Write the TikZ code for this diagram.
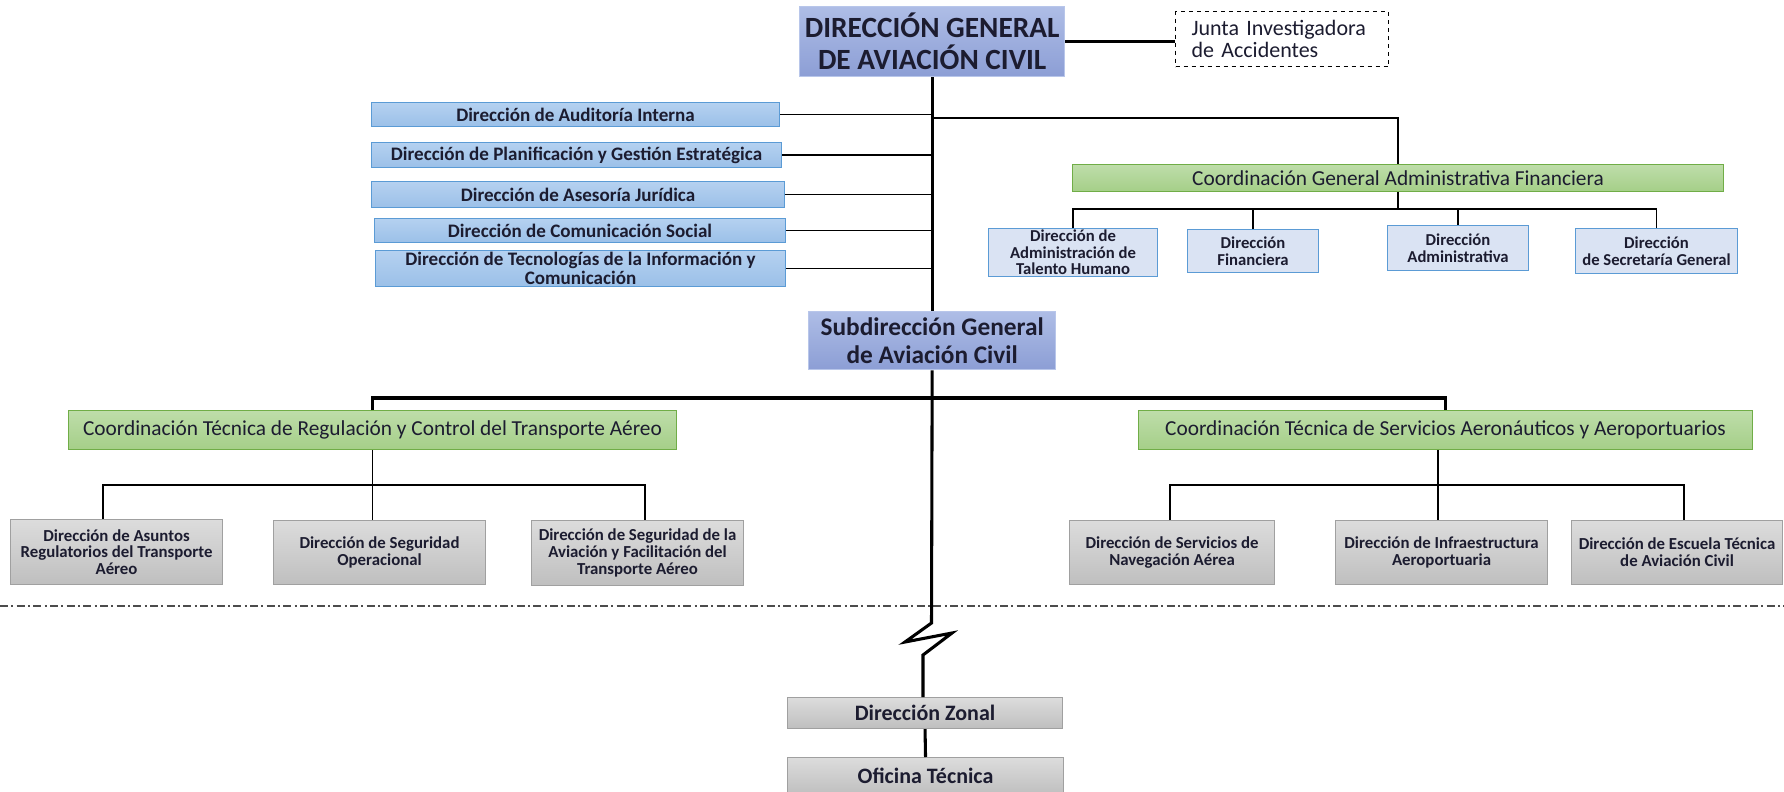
\documentclass[tikz,border=0pt]{standalone}
\usepackage{fontspec}
\setmainfont{Carlito}
\definecolor{dgtop}{HTML}{AEBDE6}
\definecolor{dgbot}{HTML}{8C9ED5}
\definecolor{dgline}{HTML}{B8C6EA}
\definecolor{sttop}{HTML}{B5D1F0}
\definecolor{stbot}{HTML}{9BC0E8}
\definecolor{stline}{HTML}{5B9BD5}
\definecolor{grtop}{HTML}{BEDDAA}
\definecolor{grbot}{HTML}{A5CF88}
\definecolor{grline}{HTML}{70AD47}
\definecolor{lbfill}{HTML}{DAE3F3}
\definecolor{lbline}{HTML}{5B9BD5}
\definecolor{gytop}{HTML}{DCDCDC}
\definecolor{gybot}{HTML}{BFBFBF}
\definecolor{gyline}{HTML}{A0A0A0}
\definecolor{txt}{HTML}{1C1C30}
\tikzset{
  sz/.style 2 args={minimum width=#1*0.75pt, minimum height=#2*0.75pt, anchor=north west},
  basebox/.style={inner sep=1pt, align=center, text=txt},
  dgbox/.style={basebox, draw=dgline, line width=1pt, top color=dgtop, bottom color=dgbot},
  stbox/.style={basebox, draw=stline, line width=0.8pt, top color=sttop, bottom color=stbot,
     font=\fontsize{14.3}{14.6}\selectfont\bfseries},
  grbox/.style={basebox, draw=grline, line width=0.8pt, top color=grtop, bottom color=grbot,
     font=\fontsize{16}{17}\selectfont},
  lbbox/.style={basebox, draw=lbline, line width=0.8pt, fill=lbfill,
     font=\fontsize{12.5}{12.5}\selectfont\bfseries},
  gybox/.style={basebox, draw=gyline, line width=0.8pt, top color=gytop, bottom color=gybot,
     font=\fontsize{12.6}{12.6}\selectfont\bfseries},
  dashbox/.style={basebox, draw=black, dashed, line width=0.8pt, fill=white, align=left,
     inner xsep=12pt, font=\fontsize{16.5}{17}\selectfont},
  trunk/.style={line width=2.3pt},
  thinline/.style={line width=1.1pt},
  sepline/.style={line width=1pt, black!70, dash pattern=on 6pt off 2.5pt on 1.5pt off 2.5pt}
}
\begin{document}
\begin{tikzpicture}[x=0.75pt, y=-0.75pt]
\useasboundingbox (0,0) rectangle (1784,792);

% top
\node[dgbox, sz={265}{70}, font=\fontsize{22}{24}\selectfont\bfseries] (dg) at (799,6) {DIRECCIÓN GENERAL\\DE AVIACIÓN CIVIL};
\node[dashbox, sz={213}{55}, text width=135.75pt] (junta) at (1175,11) {Junta Investigadora\\de Accidentes};

% staff
\node[stbox, sz={408}{24}] (s1) at (371,102) {Dirección de Auditoría Interna};
\node[stbox, sz={410}{25}] (s2) at (371,142) {Dirección de Planificación y Gestión Estratégica};
\node[stbox, sz={413}{26}] (s3) at (371,181) {Dirección de Asesoría Jurídica};
\node[stbox, sz={411}{24}] (s4) at (374,218) {Dirección de Comunicación Social};
\node[stbox, sz={410}{33}] (s5) at (375,250) {Dirección de Tecnologías de la Información y\\Comunicación};

% CGAF
\node[grbox, sz={651}{27}] (cgaf) at (1072,164) {Coordinación General Administrativa Financiera};
\node[lbbox, sz={169}{44}] (t1) at (988,228) {Dirección de\\Administración de\\Talento Humano};
\node[lbbox, sz={131}{43}] (t2) at (1187,229) {Dirección\\Financiera};
\node[lbbox, sz={141}{45}] (t3) at (1387,225) {Dirección\\Administrativa};
\node[lbbox, sz={162}{45}] (t4) at (1575,228) {Dirección\\de Secretaría General};

% sub
\node[dgbox, sz={247}{58}, font=\fontsize{19}{20.5}\selectfont\bfseries] (sub) at (808,311) {Subdirección General\\de Aviación Civil};

\node[grbox, sz={608}{39}] (ct1) at (68,410) {Coordinación Técnica de Regulación y Control del Transporte Aéreo};
\node[grbox, sz={614}{39}] (ct2) at (1138,410) {Coordinación Técnica de Servicios Aeronáuticos y Aeroportuarios};

\node[gybox, sz={212}{65}] (g1) at (10,519) {Dirección de Asuntos\\Regulatorios del Transporte\\Aéreo};
\node[gybox, sz={212}{64}] (g2) at (273,520) {Dirección de Seguridad\\Operacional};
\node[gybox, sz={212}{65}] (g3) at (531,520) {Dirección de Seguridad de la\\Aviación y Facilitación del\\Transporte Aéreo};
\node[gybox, sz={205}{64}] (g4) at (1069,520) {Dirección de Servicios de\\Navegación Aérea};
\node[gybox, sz={212}{64}] (g5) at (1335,520) {Dirección de Infraestructura\\Aeroportuaria};
\node[gybox, sz={211}{64}] (g6) at (1571,520) {Dirección de Escuela Técnica\\de Aviación Civil};

\node[gybox, sz={275}{31}, font=\fontsize{16.5}{17}\selectfont\bfseries] (zonal) at (787,697) {Dirección Zonal};
\node[gybox, sz={276}{37}, font=\fontsize{16.5}{17}\selectfont\bfseries] (ofi) at (787,757) {Oficina Técnica};

% coordinates
\coordinate (b1) at (931.5,118);
\coordinate (cb) at (0,209);
\coordinate (b2) at (0,398);
\coordinate (b3) at (0,485);
\coordinate (d1) at (103,485);
\coordinate (d3) at (645,485);
\coordinate (d4) at (1170,485);
\coordinate (d5) at (1438,485);
\coordinate (d6) at (1684,485);
\coordinate (sepL) at (0,606);
\coordinate (sepR) at (1784,606);

% connectors
\draw[trunk] (dg.east) -- (dg.east -| junta.west);
\draw[trunk] (dg.south) -- (sub.north);
\foreach \s in {s1,s2,s3,s4,s5} \draw[thinline] (\s.east) -- (\s.east -| dg.south);
\draw[thinline] (b1) -| (cgaf.north);
\draw[thinline] (cgaf.south) -- (cgaf.south |- cb);
\draw[thinline] (t1.north) -- (t1.north |- cb) -- (t4.north |- cb) -- (t4.north);
\draw[thinline] (t2.north) -- (t2.north |- cb);
\draw[thinline] (t3.north) -- (t3.north |- cb);

\draw[trunk] (ct1.north) -- (ct1.north |- b2) -- (ct2.north |- b2) -- (ct2.north);

\draw[thinline] (ct1.south) -- (ct1.south |- b3);
\draw[thinline] (d1 |- g1.north) -- (d1) -- (d3) -- (d3 |- g3.north);
\draw[thinline] (ct1.south |- b3) -- (ct1.south |- g2.north);
\draw[thinline] (d5 |- ct2.south) -- (d5 |- g5.north);
\draw[thinline] (d4 |- g4.north) -- (d4) -- (d6) -- (d6 |- g6.north);

\draw[sepline] (sepL) -- (sepR);

\draw[trunk] (sub.south) -- (931.5,623) -- (905,642) -- (952,633) -- (923,655) -- (923,697);
\draw[trunk] (zonal.south) -- (ofi.north);
\end{tikzpicture}
\end{document}
